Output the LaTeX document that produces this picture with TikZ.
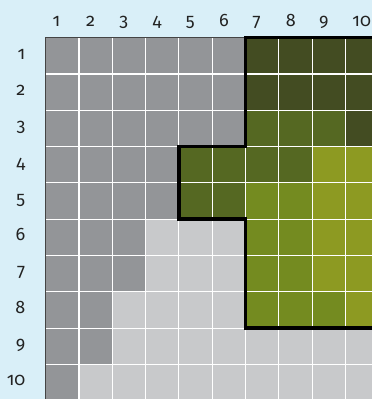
\documentclass[tikz,border=0pt]{standalone}
\usepackage{fontspec}
\setmainfont{Fira Sans}[Numbers=OldStyle]
\usetikzlibrary{positioning}
\definecolor{sky}{RGB}{217,239,248}
\definecolor{slate}{RGB}{147,149,152}
\definecolor{mist}{RGB}{200,201,203}
\definecolor{moss}{RGB}{67,76,34}
\definecolor{fern}{RGB}{85,104,34}
\definecolor{sprout}{RGB}{116,139,32}
\definecolor{straw}{RGB}{141,154,34}
\definecolor{ink}{RGB}{35,35,35}
\tikzset{
  num/.style={font=\fontsize{18}{18}\selectfont,text=ink,inner sep=0pt},
  gridline/.style={draw=white,line width=1.1pt},
  rim/.style={draw=ink!85,line width=1.3pt},
  zone/.style={draw=black,line width=3.5pt,line join=miter},
}

\begin{document}
\begin{tikzpicture}[x=1pt,y=-1pt]
  \useasboundingbox (0,0) rectangle (372,399);
  \fill[sky] (0,0) rectangle (372,399);
  \clip (0,0) rectangle (372,399);
  % column and row numbers
  \foreach \i in {1,...,10} {
    \node[num,anchor=base west] (col\i) at ({52.5+(\i-1)*33.3},26) {\i};
    \node[num,anchor=base east] (row\i) at (25.5,{41+(\i-0.5)*36.3}) {\i};
  }
  \begin{scope}[shift={(45.7,37.7)},x=33.3pt,y=-36.3pt]
    \foreach \cols [count=\r] in {
      {slate,slate,slate,slate,slate,slate,moss,moss,moss,moss},
      {slate,slate,slate,slate,slate,slate,moss,moss,moss,moss},
      {slate,slate,slate,slate,slate,slate,fern,fern,fern,moss},
      {slate,slate,slate,slate,fern,fern,fern,fern,straw,straw},
      {slate,slate,slate,slate,fern,fern,sprout,sprout,straw,straw},
      {slate,slate,slate,mist,mist,mist,sprout,sprout,straw,straw},
      {slate,slate,slate,mist,mist,mist,sprout,sprout,straw,straw},
      {slate,slate,mist,mist,mist,mist,sprout,sprout,sprout,straw},
      {slate,slate,mist,mist,mist,mist,mist,mist,mist,mist},
      {slate,mist,mist,mist,mist,mist,mist,mist,mist,mist}}
      \foreach \c [count=\k] in \cols
        \fill[\c] (\k-1,\r-1) rectangle (\k,\r);
    \foreach \i in {1,...,9}
      \draw[gridline] (\i,0) -- (\i,10.2) (0,\i) -- (10.5,\i);
    \draw[rim] (0,10.2) -- (0,0) -- (6,0);
    % selected region
    \draw[zone] (6,0) -- (10.5,0) -- (10.5,8) -- (6,8) -- (6,5) -- (4,5)
      -- (4,3) -- (6,3) -- cycle;
  \end{scope}
\end{tikzpicture}
\end{document}
